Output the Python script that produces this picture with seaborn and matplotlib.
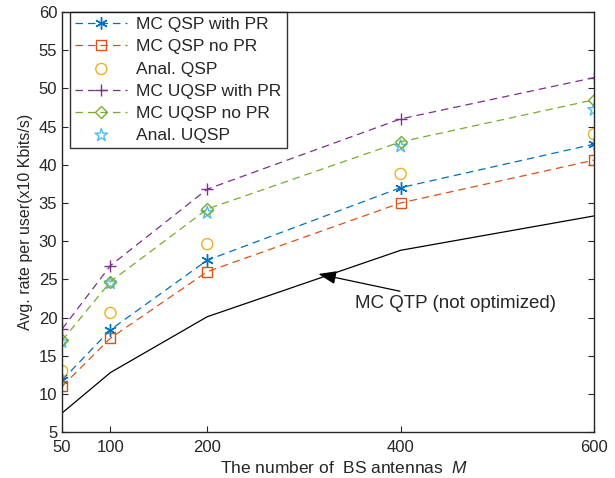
import pandas as pd
import matplotlib
matplotlib.use("Agg")
import matplotlib.pyplot as plt
import seaborn as sns

# values
antennas = [50, 100, 200, 400, 600]
mc_qsp_pr = [11.8, 18.4, 27.5, 37.0, 42.7]
mc_qsp_nopr = [11.0, 17.3, 26.0, 35.0, 40.6]
anal_qsp = [13.0, 20.6, 29.6, 38.8, 44.0]
mc_uqsp_pr = [18.5, 26.8, 36.8, 46.0, 51.4]
mc_uqsp_nopr = [17.0, 24.7, 34.2, 43.0, 48.5]
anal_uqsp = [16.8, 24.5, 33.7, 42.4, 47.2]
mc_qtp = [7.5, 12.8, 20.1, 28.8, 33.3]

sns.set_style("ticks")
plt.rcParams['font.family'] = ['Liberation Sans', 'DejaVu Sans']
plt.rcParams['mathtext.fontset'] = 'custom'
plt.rcParams['mathtext.it'] = 'Liberation Sans:italic'

fig = plt.figure(figsize=(6.15, 4.78), dpi=100)
ax = fig.add_axes([0.101, 0.096, 0.865, 0.879])

asterisk = (6, 2, 0)
series = [
    ('MC QSP with PR', mc_qsp_pr, '#0072BD', asterisk, True, 9),
    ('MC QSP no PR', mc_qsp_nopr, '#D95319', 's', True, 6.5),
    ('Anal. QSP', anal_qsp, '#EDB120', 'o', False, 8),
    ('MC UQSP with PR', mc_uqsp_pr, '#7E2F8E', '+', True, 9),
    ('MC UQSP no PR', mc_uqsp_nopr, '#77AC30', 'D', True, 6),
    ('Anal. UQSP', anal_uqsp, '#4DBEEE', '*', False, 9.5),
]

for name, vals, col, mk, has_line, ms in series:
    df = pd.DataFrame({'M': antennas, 'rate': vals})
    if has_line:
        sns.lineplot(data=df, x='M', y='rate', ax=ax, color=col, label=name,
                     linestyle=(0, (6, 4)), linewidth=0.9, marker=mk,
                     markersize=ms, markerfacecolor='none',
                     markeredgecolor=col, markeredgewidth=1.0)
    else:
        sns.scatterplot(data=df, x='M', y='rate', ax=ax, label=name,
                        marker=mk, s=ms ** 2,
                        facecolors='none', edgecolors=col, linewidths=1.0)

sns.lineplot(x=antennas, y=mc_qtp, ax=ax, color='black', linewidth=0.9)

ax.annotate('MC QTP (not optimized)', xy=(315, 25.7), xytext=(353, 21.9),
            fontsize=13.5, va='center', ha='left',
            arrowprops=dict(arrowstyle='-|>,head_length=0.8,head_width=0.3',
                            color='black', lw=0.9,
                            shrinkA=0, shrinkB=0))

ax.set_xlim(50, 600)
ax.set_ylim(5, 60)
ax.set_xticks(antennas)
ax.set_yticks(range(5, 61, 5))
ax.tick_params(direction='in', top=False, right=True, labelsize=12, length=4)
ax.tick_params(axis='x', pad=6)
for s in ax.spines.values():
    s.set_visible(True)
    s.set_linewidth(1.0)
ax.set_xlabel('The number of  BS antennas  $M$', fontsize=12.5)
ax.xaxis.set_label_coords(0.53, -0.066)
ax.set_ylabel('Avg. rate per user(x10 Kbits/s)', fontsize=11.5)

leg = ax.legend(loc='upper left', fontsize=12.5, frameon=True, fancybox=False,
                edgecolor='black', handlelength=3.0, handletextpad=0.5,
                borderpad=0.3, labelspacing=0.4, borderaxespad=0,
                bbox_to_anchor=(0.015, 1.0))
leg.get_frame().set_linewidth(1.0)

fig.savefig('out.png', dpi=100)
